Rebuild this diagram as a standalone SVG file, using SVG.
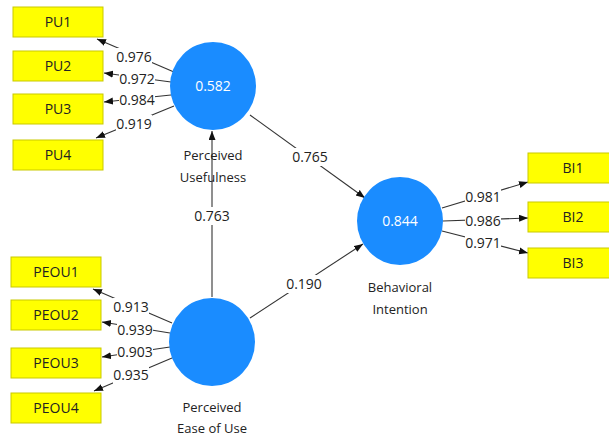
<svg xmlns="http://www.w3.org/2000/svg" width="609" height="437" viewBox="0 0 609 437">
<style>
.ind rect{fill:#ffff00;stroke:#c9c900;stroke-width:1}
.ind text{font-family:"Open Sans","Noto Sans",sans-serif;font-size:14px;fill:#222;text-anchor:middle}
.lv ellipse{fill:#1a8cff}
.lv .val{font-family:"Open Sans","Noto Sans",sans-serif;font-size:14px;fill:#ffffff;text-anchor:middle}
.lv .nm{font-family:"Open Sans","Noto Sans",sans-serif;font-size:13px;fill:#222;text-anchor:middle}
.edges line{stroke:#333;stroke-width:1.1;marker-end:url(#ah)}
.lbl rect{fill:#fff}
.lbl text{font-family:"Open Sans","Noto Sans",sans-serif;font-size:14px;fill:#222;text-anchor:middle}
</style>
<defs>
<marker id="ah" markerUnits="userSpaceOnUse" markerWidth="10" markerHeight="8" refX="9" refY="3.5" orient="auto">
<path d="M0,0 L9,3.5 L0,7 z" fill="#111"/>
</marker>
</defs>
<rect width="609" height="437" fill="#fff"/>
<g class="edges">
<line x1="174" y1="72" x2="97" y2="39"/>
<line x1="171" y1="82" x2="104" y2="73"/>
<line x1="171" y1="95" x2="104" y2="102"/>
<line x1="174" y1="106" x2="96" y2="138"/>
<line x1="172" y1="323" x2="93" y2="289"/>
<line x1="170" y1="333" x2="102" y2="322"/>
<line x1="170" y1="347" x2="102" y2="357"/>
<line x1="172" y1="358" x2="94" y2="391"/>
<line x1="442" y1="208" x2="528" y2="182"/>
<line x1="443" y1="221" x2="528" y2="218"/>
<line x1="442" y1="231" x2="528" y2="253"/>
<line x1="212" y1="297" x2="212" y2="131"/>
<line x1="250" y1="115" x2="365" y2="198"/>
<line x1="250" y1="318" x2="363" y2="244"/>
</g>
<g class="lbl">
<rect x="116" y="48" width="36" height="18"/><text x="134" y="62">0.976</text>
<rect x="119" y="70" width="36" height="18"/><text x="137" y="84">0.972</text>
<rect x="119" y="91" width="36" height="18"/><text x="137" y="105">0.984</text>
<rect x="116" y="115" width="36" height="18"/><text x="134" y="129">0.919</text>
<rect x="113" y="298" width="36" height="18"/><text x="131" y="312">0.913</text>
<rect x="117" y="321" width="36" height="18"/><text x="135" y="335">0.939</text>
<rect x="117" y="343" width="36" height="18"/><text x="135" y="357">0.903</text>
<rect x="113" y="366" width="36" height="18"/><text x="131" y="380">0.935</text>
<rect x="465" y="188" width="36" height="18"/><text x="483" y="202">0.981</text>
<rect x="465" y="212" width="36" height="18"/><text x="483" y="226">0.986</text>
<rect x="465" y="234" width="36" height="18"/><text x="483" y="248">0.971</text>
<rect x="194" y="207" width="36" height="18"/><text x="212" y="221">0.763</text>
<rect x="292" y="148" width="36" height="18"/><text x="310" y="162">0.765</text>
<rect x="286" y="275" width="36" height="18"/><text x="304" y="289">0.190</text>
</g>
<g id="PU" class="lv">
<ellipse cx="213" cy="86" rx="43" ry="44"/>
<text class="val" x="213" y="91">0.582</text>
<text class="nm" x="213" y="160">Perceived</text>
<text class="nm" x="213" y="182">Usefulness</text>
</g>
<g id="PEOU" class="lv">
<ellipse cx="212" cy="342" rx="43" ry="44"/>
<text class="nm" x="212" y="412">Perceived</text>
<text class="nm" x="212" y="433">Ease of Use</text>
</g>
<g id="BI" class="lv">
<ellipse cx="400" cy="221" rx="43" ry="44"/>
<text class="val" x="400" y="226">0.844</text>
<text class="nm" x="400" y="292">Behavioral</text>
<text class="nm" x="400" y="314">Intention</text>
</g>
<g id="PU1" class="ind"><rect x="13" y="7" width="90" height="30"/><text x="58" y="27">PU1</text></g>
<g id="PU2" class="ind"><rect x="13" y="51" width="90" height="30"/><text x="58" y="71">PU2</text></g>
<g id="PU3" class="ind"><rect x="13" y="94" width="90" height="30"/><text x="58" y="114">PU3</text></g>
<g id="PU4" class="ind"><rect x="13" y="140" width="90" height="30"/><text x="58" y="160">PU4</text></g>
<g id="PEOU1" class="ind"><rect x="11" y="257" width="90" height="30"/><text x="56" y="277">PEOU1</text></g>
<g id="PEOU2" class="ind"><rect x="11" y="300" width="90" height="30"/><text x="56" y="320">PEOU2</text></g>
<g id="PEOU3" class="ind"><rect x="11" y="348" width="90" height="30"/><text x="56" y="368">PEOU3</text></g>
<g id="PEOU4" class="ind"><rect x="11" y="393" width="90" height="30"/><text x="56" y="413">PEOU4</text></g>
<g id="BI1" class="ind"><rect x="528" y="153" width="90" height="30"/><text x="573" y="173">BI1</text></g>
<g id="BI2" class="ind"><rect x="528" y="202" width="90" height="30"/><text x="573" y="222">BI2</text></g>
<g id="BI3" class="ind"><rect x="528" y="248" width="90" height="30"/><text x="573" y="268">BI3</text></g>
</svg>
